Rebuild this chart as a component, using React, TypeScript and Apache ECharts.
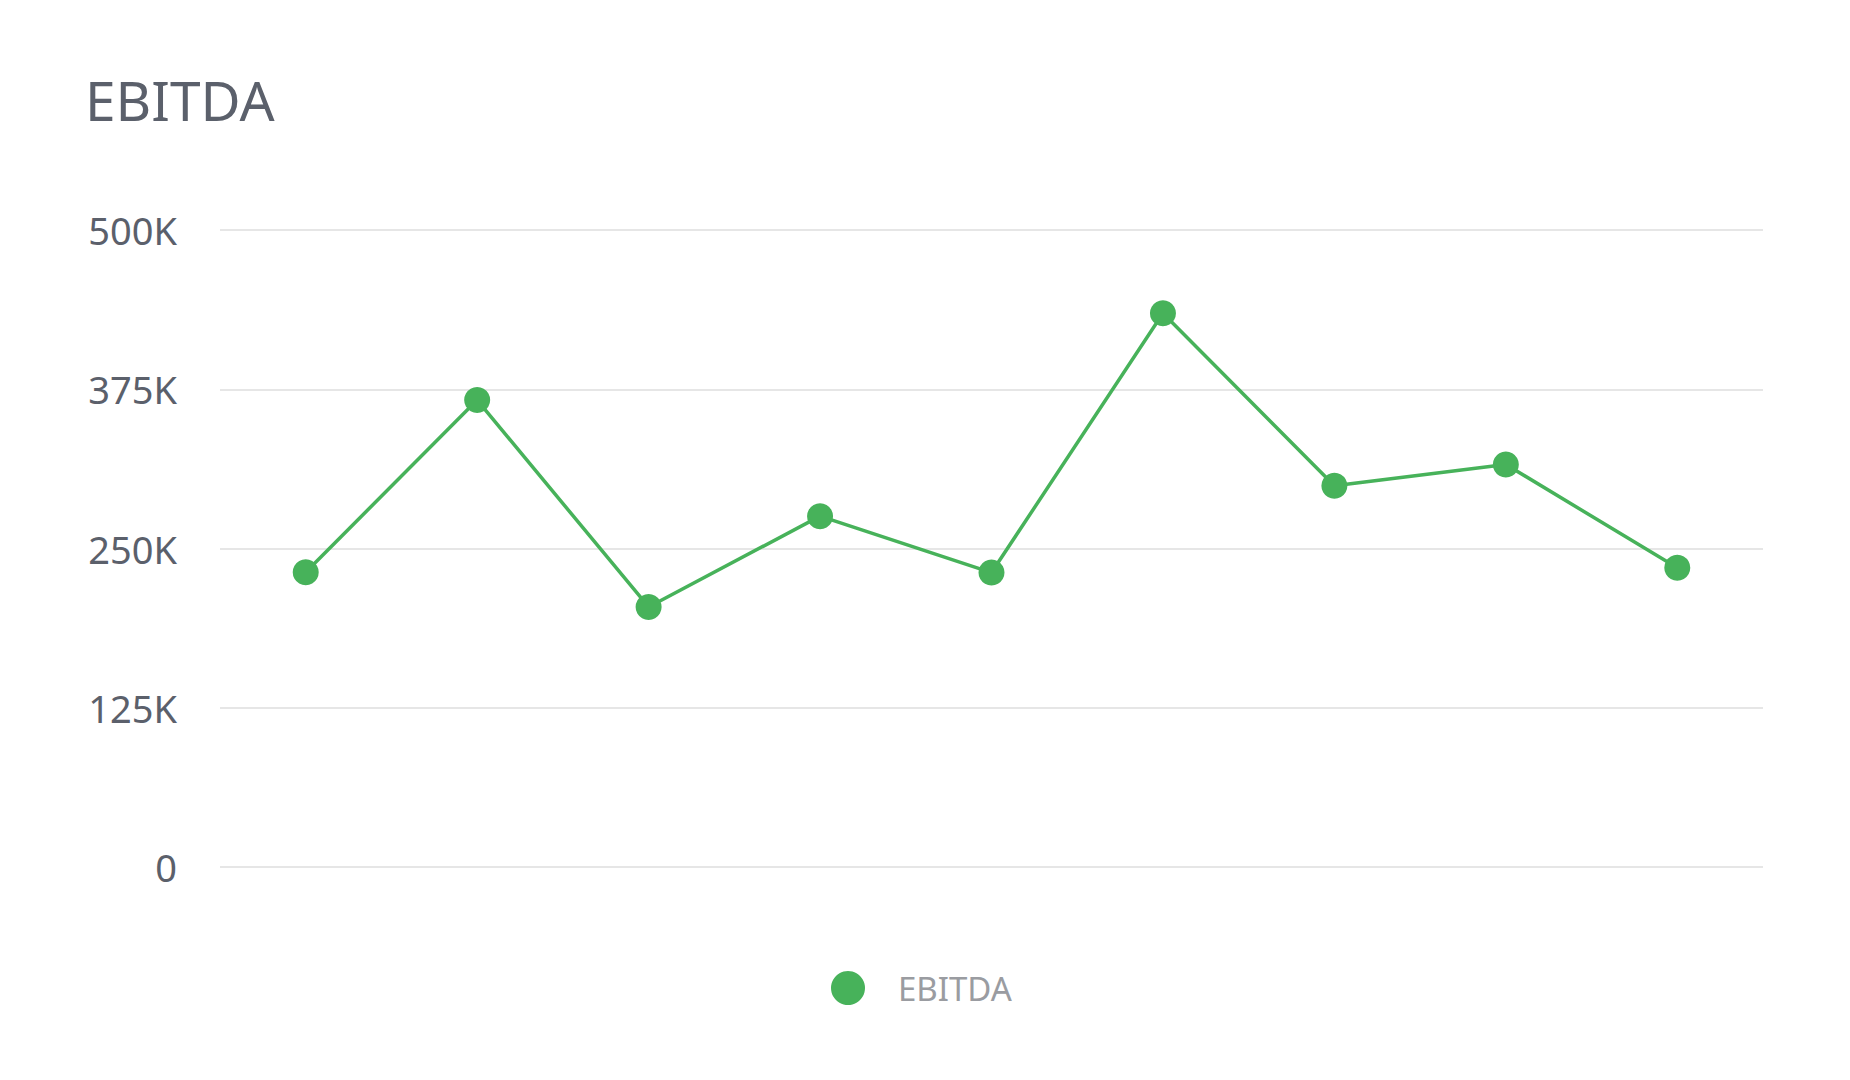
import React, { useEffect, useRef } from "react";
import * as echarts from "echarts";

// 数据
const periods = ["P1", "P2", "P3", "P4", "P5", "P6", "P7", "P8", "P9"];
const ebitdaValues = [231400, 366500, 204100, 275400, 231100, 434600, 299200, 316000, 234800];
const yTicks = [0, 125000, 250000, 375000, 500000];

const GREEN = "#47b25a";
const TEXT = "#5b606b";

const fmtK = (v: number) => (v === 0 ? "0" : v / 1000 + "K");

export default function App() {
	const chartRef = useRef<HTMLDivElement>(null);

	useEffect(() => {
		if (!chartRef.current) return;
		const chart = echarts.init(chartRef.current, undefined, { renderer: "svg" });

		const option: echarts.EChartsOption = {
			animation: false,
			backgroundColor: "#ffffff",
			textStyle: { fontFamily: "Noto Sans" },
			title: {
				text: "EBITDA",
				left: 85,
				top: 72,
				padding: 0,
				textStyle: { fontSize: 55, fontWeight: "normal", color: TEXT, fontFamily: "Noto Sans" }
			},
			legend: {
				left: 826,
				top: 966,
				icon: "circle",
				itemWidth: 34,
				itemHeight: 34,
				itemGap: 30,
				textStyle: { fontSize: 33, color: "#9a9ca1", padding: [0, 0, 0, 28] },
				data: ["EBITDA"]
			},
			grid: {
				left: 220,
				right: 87,
				top: 230,
				bottom: 213,
				containLabel: false
			},
			xAxis: {
				type: "category",
				data: periods,
				boundaryGap: true,
				axisLine: { show: false },
				axisTick: { show: false },
				axisLabel: { show: false },
				splitLine: { show: false }
			},
			yAxis: {
				type: "value",
				min: yTicks[0],
				max: yTicks[yTicks.length - 1],
				interval: 125000,
				axisLine: { show: false },
				axisTick: { show: false },
				axisLabel: {
					formatter: (v: number) => fmtK(v),
					fontSize: 38,
					color: TEXT,
					margin: 43
				},
				splitLine: { lineStyle: { color: "#e6e6e6", width: 2 } }
			},
			series: [
				{
					name: "EBITDA",
					type: "line",
					data: ebitdaValues,
					symbol: "circle",
					symbolSize: 26,
					itemStyle: { color: GREEN },
					lineStyle: { color: GREEN, width: 3.5 }
				}
			]
		};

		chart.setOption(option);
		return () => {
			chart.dispose();
		};
	}, []);

	return (
		<div
			ref={chartRef}
			style={{ position: "absolute", left: 0, top: 0, width: 1850, height: 1080 }}
		/>
	);
}
